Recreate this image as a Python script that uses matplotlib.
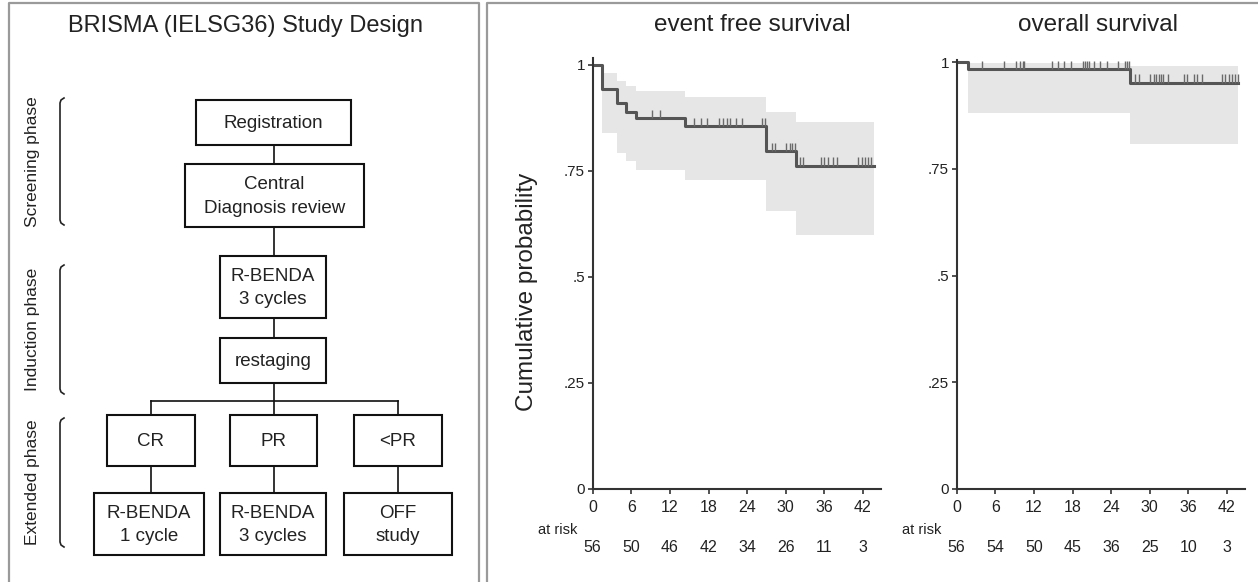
import numpy as np
import matplotlib
matplotlib.use("Agg")
import matplotlib.pyplot as plt
from matplotlib.patches import Rectangle
from matplotlib.transforms import blended_transform_factory

plt.rcParams['font.family'] = ['Liberation Sans', 'DejaVu Sans']

# ---- data ----
months = [0, 6, 12, 18, 24, 30, 36, 42]
prob_ticks = [0, .25, .5, .75, 1]
prob_labels = ['0', '.25', '.5', '.75', '1']

# event free survival: step times, estimate and 95% band
efs_t = [0, 1.4, 3.7, 5.2, 6.8, 14.4, 27.0, 31.6]
efs_s = [1.0, 0.943, 0.910, 0.890, 0.874, 0.855, 0.797, 0.762]
efs_lo = [1.0, 0.839, 0.793, 0.774, 0.752, 0.729, 0.656, 0.599]
efs_hi = [1.0, 0.982, 0.963, 0.951, 0.939, 0.924, 0.890, 0.866]
efs_end = 43.7
efs_cens = [9.2, 10.5, 15.7, 16.8, 17.8, 19.7, 20.3, 20.9, 21.4, 22.3, 23.2,
            26.3, 26.8, 27.8, 28.3, 30.1, 30.7, 30.9, 31.4, 32.2, 32.7, 35.5,
            36.0, 36.5, 37.4, 37.9, 41.3, 41.8, 42.3, 42.8, 43.3]
efs_risk = [56, 50, 46, 42, 34, 26, 11, 3]

# overall survival
os_t = [0, 1.8, 27.0]
os_s = [1.0, 0.983, 0.952]
os_lo = [1.0, 0.881, 0.808]
os_hi = [1.0, 0.997, 0.991]
os_end = 43.7
os_cens = [3.9, 7.4, 9.2, 9.8, 10.3, 10.5, 14.8, 15.8, 16.7, 17.8, 19.7, 20.0,
           20.2, 20.6, 21.3, 22.3, 23.3, 25.1, 26.2, 26.5, 26.8, 27.7, 28.3,
           30.1, 30.6, 31.0, 31.4, 31.7, 32.1, 32.9, 35.3, 35.8, 36.8, 37.3,
           38.1, 41.2, 41.7, 42.3, 42.8, 43.3, 43.7]
os_risk = [56, 54, 50, 45, 36, 25, 10, 3]

# study design flowchart
box_labels = ['Registration', 'Central\nDiagnosis review', 'R-BENDA\n3 cycles',
              'restaging', 'CR', 'PR', '<PR', 'R-BENDA\n1 cycle',
              'R-BENDA\n3 cycles', 'OFF\nstudy']
phase_labels = ['Screening phase', 'Induction phase', 'Extended phase']

W, H = 1258, 582
fig = plt.figure(figsize=(W / 100, H / 100), dpi=100)

# background axes in pixel units (y down) for the panels and the flowchart
bg = fig.add_axes([0, 0, 1, 1])
bg.set_xlim(0, W)
bg.set_ylim(H, 0)
bg.axis('off')

# panel frames
frame = dict(color='#9a9a9a', lw=1.6, solid_capstyle='butt')
bg.plot([9, 9, 479, 479], [H, 3, 3, H], **frame)
bg.plot([487, 487, W], [H, 3, 3], **frame)

bg.text(245, 26, 'BRISMA (IELSG36) Study Design', ha='center', va='center',
        fontsize=17, color='#222222')

# box geometry (x0, y0, x1, y1) in pixels, same order as box_labels
box_xy = [(196, 100, 351, 145), (185, 164, 364, 227), (220, 256, 326, 318),
          (220, 338, 326, 383), (107, 415, 195, 466), (230, 415, 317, 466),
          (354, 415, 442, 466), (94, 493, 204, 555), (220, 493, 326, 555),
          (344, 493, 452, 555)]
for lab, (x0, y0, x1, y1) in zip(box_labels, box_xy):
    bg.add_patch(Rectangle((x0, y0), x1 - x0, y1 - y0, fill=False,
                           ec='#111111', lw=1.5))
    bg.text((x0 + x1) / 2, (y0 + y1) / 2 + 1, lab, ha='center', va='center',
            fontsize=13.5, linespacing=1.5, color='#222222')

# connectors
links = [((274, 274), (145, 164)), ((274, 274), (227, 256)),
         ((274, 274), (318, 338)), ((274, 274), (383, 415)),
         ((151, 398), (401, 401)), ((151, 151), (401, 415)),
         ((398, 398), (401, 415)), ((151, 151), (466, 493)),
         ((274, 274), (466, 493)), ((398, 398), (466, 493))]
for xs, ys in links:
    bg.plot(xs, ys, color='#111111', lw=1.2)

# phase brackets and labels
phase_span = [(98, 225), (265, 394), (418, 547)]
for lab, (y0, y1) in zip(phase_labels, phase_span):
    x = 60
    bg.plot([x + 4, x + 1, x, x, x + 1, x + 4],
            [y0, y0 + 2, y0 + 5, y1 - 5, y1 - 2, y1], color='#222222', lw=1.2)
    bg.text(33, (y0 + y1) / 2, lab, rotation=90, ha='center', va='center',
            fontsize=12.5, color='#222222')


def km_panel(rect, ymax, t, s, lo, hi, t_end, cens, risk, title, title_x):
    x0, ytop, x1, ybot = rect
    ax = fig.add_axes([x0 / W, (H - ybot) / H, (x1 - x0) / W, (ybot - ytop) / H])
    ax.patch.set_alpha(0)
    tt = np.append(t, t_end)
    ax.fill_between(tt, np.append(lo, lo[-1]), np.append(hi, hi[-1]),
                    step='post', color='#e6e6e6', lw=0)
    ax.step(tt, np.append(s, s[-1]), where='post', color='#555555', lw=2.2)
    idx = np.searchsorted(t, cens, side='right') - 1
    lev = np.asarray(s)[idx]
    ax.vlines(cens, lev, lev + 0.02, color='#6a6a6a', lw=1)

    ax.set_xlim(0, 44.8)
    ax.set_ylim(0, ymax)
    ax.set_xticks(months)
    ax.set_yticks(prob_ticks)
    ax.set_yticklabels(prob_labels)
    for side in ('top', 'right'):
        ax.spines[side].set_visible(False)
    for side in ('left', 'bottom'):
        ax.spines[side].set_color('#333333')
        ax.spines[side].set_linewidth(1.5)
    ax.tick_params(direction='out', length=3.6, width=1.2, color='#333333',
                   labelsize=11.5, labelcolor='#222222')
    ax.tick_params(axis='x', pad=4.5)
    ax.tick_params(axis='y', pad=2, labelsize=11)

    tr = blended_transform_factory(ax.transData, bg.transData)
    for m, n in zip(months, risk):
        ax.text(m, 548, str(n), transform=tr, ha='center', va='center',
                fontsize=11.5, color='#222222')
    bg.text(x0 - 15, 530, 'at risk', ha='right', va='center', fontsize=10.5,
            color='#222222')
    bg.text(title_x, 25, title, ha='center', va='center', fontsize=17.5,
            color='#222222')
    return ax


km_panel((592.7, 58, 881, 489), 1.0165, efs_t, efs_s, efs_lo, efs_hi, efs_end,
         efs_cens, efs_risk, 'event free survival', 752)
km_panel((956.7, 60, 1245, 489), 1.0047, os_t, os_s, os_lo, os_hi, os_end,
         os_cens, os_risk, 'overall survival', 1098)

bg.text(527, 292, 'Cumulative probability', rotation=90, ha='center',
        va='center', fontsize=17.5, color='#222222')

fig.savefig('out.png', dpi=100)
